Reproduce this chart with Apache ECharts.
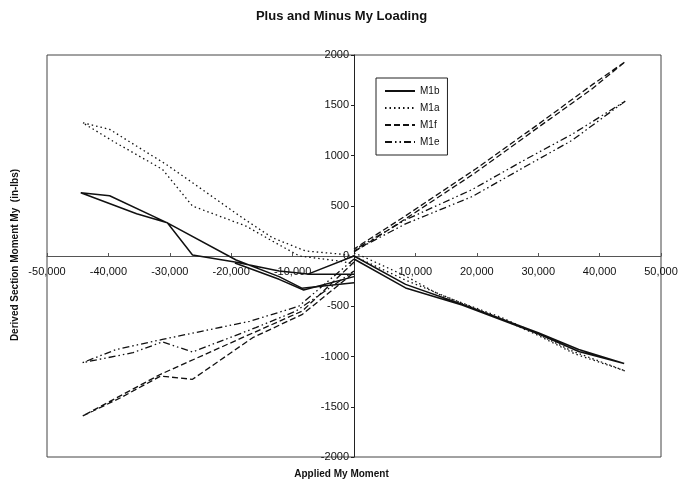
<!DOCTYPE html>
<html>
<head>
<meta charset="utf-8">
<script src="https://cdn.jsdelivr.net/npm/echarts@6/dist/echarts.min.js"></script>
<style>
html,body{margin:0;padding:0;background:#fff;}
#chart{width:683px;height:487px;}
</style>
</head>
<body>
<div id="chart"></div>
<script>
// ---- data (x = applied My moment, y = derived section moment My, in-lbs) ----
var xTicks = [-50000, -40000, -30000, -20000, -10000, 0, 10000, 20000, 30000, 40000, 50000];
var yTicks = [-2000, -1500, -1000, -500, 0, 500, 1000, 1500, 2000];

// M1b (solid)
var m1bNeg = [[0,0],[-7500,-180],[-12200,-150],[-19400,-60],[-26300,10],[-30400,330],[-39800,600],[-44500,630],
  [-35400,420],[-30400,330],[-19200,-40],[-12200,-205],[-8500,-320],[0,-265]];
var m1bNeg2 = [[-19400,-70],[-12200,-232],[-8200,-338],[0,-205]];
var m1bNeg3 = [[-7500,-182],[0,-182]];
var m1bPos = [[0,0],[8400,-282],[17600,-480],[30000,-763],[36600,-930],[44000,-1070],
  [36600,-950],[30000,-775],[17600,-488],[8400,-318],[0,-30]];

// M1a (dotted)
var m1aNeg = [[0,0],[-2400,20],[-7900,50],[-13300,182],[-18200,381],[-26300,729],[-30600,912],[-35000,1078],
  [-39800,1260],[-44200,1326],[-39300,1144],[-31200,862],[-26300,497],[-17600,298],[-13300,149],[-8900,0],[-2400,-50],[0,-80]];
var m1aPos = [[0,30],[2000,-20],[8400,-199],[13800,-381],[24100,-614],[30000,-780],[35500,-945],[44200,-1144],
  [36000,-975],[30000,-790],[24000,-625],[17600,-470],[8400,-240],[0,0]];

// M1f (dashed)
var m1fNeg = [[0,-60],[-8400,-547],[-18200,-813],[-31500,-1177],[-44200,-1592],[-38000,-1410],[-31500,-1195],
  [-26300,-1227],[-16500,-813],[-8400,-580],[0,-165]];
var m1fPos = [[0,40],[8400,370],[19800,830],[30000,1280],[38700,1660],[44200,1935],
  [38700,1700],[30000,1310],[19800,865],[8400,400],[0,70]];

// M1e (dash-dot-dot)
var m1eNeg = [[0,-30],[-9000,-500],[-17000,-650],[-31200,-830],[-38700,-930],[-44200,-1061],[-36000,-962],
  [-31200,-855],[-26300,-955],[-16000,-713],[-9500,-550],[0,-150]];
var m1ePos = [[0,50],[8400,320],[19200,590],[27900,890],[35500,1150],[44200,1542],
  [35500,1210],[27900,960],[19200,660],[8400,360],[0,60]];

var FONT = 'Liberation Sans, Arial, sans-serif';
var INK = '#111';
var GRID = {left: 47, right: 22, top: 55, bottom: 30};
var gridW = 683 - GRID.left - GRID.right;
var gridH = 487 - GRID.top - GRID.bottom;

function mk(name, data, type, width) {
  return {
    name: name, type: 'line', data: data, symbol: 'none',
    lineStyle: {color: INK, width: width || 1.2, type: type},
    itemStyle: {color: INK},
    animation: false, z: 3
  };
}
var solid = 'solid', dotted = [1.5, 3], dashed = [6, 3], dashDot = [7, 3, 1.5, 3, 1.5, 3];

var series = [
  mk('M1b', m1bNeg, solid, 1.5), mk('M1b', m1bNeg2, solid, 1.5), mk('M1b', m1bNeg3, solid, 1.5), mk('M1b', m1bPos, solid, 1.5),
  mk('M1a', m1aNeg, dotted, 1.3), mk('M1a', m1aPos, dotted, 1.3),
  mk('M1f', m1fNeg, dashed, 1.3), mk('M1f', m1fPos, dashed, 1.3),
  mk('M1e', m1eNeg, dashDot, 1.3), mk('M1e', m1ePos, dashDot, 1.3)
];

var chart = echarts.init(document.getElementById('chart'), null, {renderer: 'canvas'});
chart.setOption({
  backgroundColor: '#fff',
  animation: false,
  textStyle: {fontFamily: FONT},
  title: {
    text: 'Plus and Minus My Loading', left: 'center', top: 5,
    textStyle: {fontFamily: FONT, fontSize: 13, fontWeight: 'bold', color: '#111'}
  },
  legend: {
    data: ['M1b', 'M1a', 'M1f', 'M1e'],
    orient: 'vertical', left: 376, top: 78,
    itemWidth: 30, itemHeight: 10, itemGap: 7,
    padding: [8, 8, 8, 8],
    itemStyle: {opacity: 0},
    backgroundColor: '#fff', borderColor: '#222', borderWidth: 1,
    textStyle: {fontFamily: FONT, fontSize: 10, color: '#111'}
  },
  grid: {left: GRID.left, right: GRID.right, top: GRID.top, bottom: GRID.bottom, show: true,
    borderColor: '#444', borderWidth: 1, backgroundColor: 'transparent'},
  xAxis: {
    type: 'value', position: 'bottom', offset: -gridH / 2,
    min: xTicks[0], max: xTicks[xTicks.length - 1], interval: 10000,
    axisLine: {onZero: false, lineStyle: {color: '#555', width: 1}},
    axisTick: {show: true, inside: true, length: 3, lineStyle: {color: '#555'}},
    splitLine: {show: false},
    axisLabel: {
      fontFamily: FONT, fontSize: 11, color: '#111', margin: 10,
      formatter: function (v) { return v === 0 ? '' : v.toLocaleString('en-US'); }
    }
  },
  yAxis: {
    type: 'value', position: 'left', offset: -gridW / 2,
    min: yTicks[0], max: yTicks[yTicks.length - 1], interval: 500,
    axisLine: {onZero: false, lineStyle: {color: '#222', width: 1}},
    axisTick: {show: true, length: 3, lineStyle: {color: '#222'}},
    splitLine: {show: false},
    axisLabel: {fontFamily: FONT, fontSize: 11, color: '#111', margin: 5,
      formatter: function (v) { return String(v); }}
  },
  graphic: [
    {type: 'text', left: 'center', top: 469, style: {text: 'Applied My Moment', font: 'bold 10px ' + FONT, fill: '#111'}},
    {type: 'text', x: 15, y: 255, rotation: Math.PI / 2,
      style: {text: 'Derived Section Moment My  (in-lbs)', font: 'bold 10px ' + FONT, fill: '#111', align: 'center', verticalAlign: 'middle'}}
  ],
  series: series
});
</script>
</body>
</html>
